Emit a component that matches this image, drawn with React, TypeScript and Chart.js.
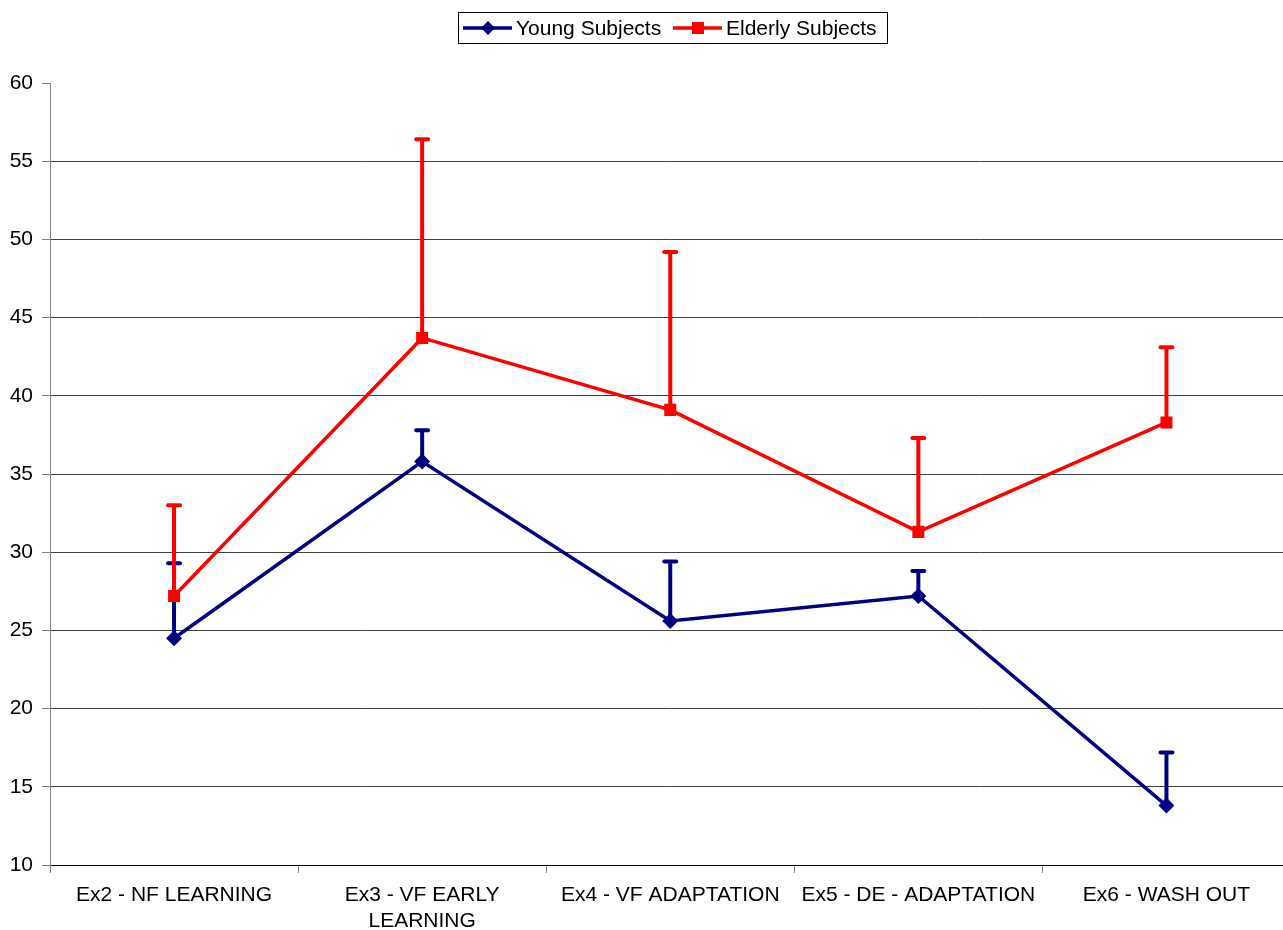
import React, { useEffect, useRef } from "react";
import { Chart, registerables } from "chart.js";

Chart.register(...registerables);

const categories: (string | string[])[] = [
  "Ex2 - NF LEARNING",
  ["Ex3 - VF EARLY", "LEARNING"],
  "Ex4 - VF ADAPTATION",
  "Ex5 - DE - ADAPTATION",
  "Ex6 - WASH OUT",
];
const youngValues = [24.5, 35.8, 25.6, 27.2, 13.8];
const youngUpper = [29.3, 37.8, 29.4, 28.8, 17.2];
const elderlyValues = [27.2, 43.7, 39.1, 31.3, 38.3];
const elderlyUpper = [33.0, 56.4, 49.2, 37.3, 43.1];
const seriesNames = ["Young Subjects", "Elderly Subjects"];
const yTicks = [10, 15, 20, 25, 30, 35, 40, 45, 50, 55, 60];

const NAVY = "#000080";
const RED = "#FF0000";
const FONT = "'Liberation Sans', Arial, sans-serif";

const errorBarPlugin = {
  id: "errorBars",
  beforeDatasetsDraw(chart: any) {
    const ctx = chart.ctx;
    const y = chart.scales.y;
    const sets = [
      { idx: 0, upper: youngUpper, color: NAVY },
      { idx: 1, upper: elderlyUpper, color: RED },
    ];
    ctx.save();
    for (const s of sets) {
      const meta = chart.getDatasetMeta(s.idx);
      const data = chart.data.datasets[s.idx].data as number[];
      ctx.strokeStyle = s.color;
      ctx.lineWidth = 4;
      meta.data.forEach((pt: any, i: number) => {
        const x = pt.x;
        const y0 = y.getPixelForValue(data[i]);
        const y1 = y.getPixelForValue(s.upper[i]);
        ctx.lineCap = "butt";
        ctx.beginPath();
        ctx.moveTo(x, y0);
        ctx.lineTo(x, y1);
        ctx.stroke();
        ctx.lineCap = "round";
        ctx.beginPath();
        ctx.moveTo(x - 6, y1);
        ctx.lineTo(x + 6, y1);
        ctx.stroke();
      });
    }
    ctx.restore();
  },
};

const legendPlugin = {
  id: "boxLegend",
  afterDraw(chart: any) {
    const ctx = chart.ctx;
    ctx.save();
    ctx.strokeStyle = "#000";
    ctx.lineWidth = 1;
    ctx.strokeRect(458.5, 12.5, 429, 31);
    ctx.font = `21px ${FONT}`;
    ctx.textBaseline = "middle";
    ctx.textAlign = "left";
    const cy = 28;
    // young
    ctx.strokeStyle = NAVY;
    ctx.lineWidth = 3.5;
    ctx.beginPath();
    ctx.moveTo(463, cy);
    ctx.lineTo(512, cy);
    ctx.stroke();
    ctx.fillStyle = NAVY;
    ctx.beginPath();
    ctx.moveTo(488, cy - 7);
    ctx.lineTo(495, cy);
    ctx.lineTo(488, cy + 7);
    ctx.lineTo(481, cy);
    ctx.closePath();
    ctx.fill();
    ctx.fillStyle = "#000";
    ctx.fillText(seriesNames[0], 516, cy + 1);
    // elderly
    ctx.strokeStyle = RED;
    ctx.beginPath();
    ctx.moveTo(673, cy);
    ctx.lineTo(722, cy);
    ctx.stroke();
    ctx.fillStyle = RED;
    ctx.fillRect(692, cy - 6, 12, 12);
    ctx.fillStyle = "#000";
    ctx.fillText(seriesNames[1], 726, cy + 1);
    ctx.restore();
  },
};

export default function App() {
  const ref = useRef<HTMLCanvasElement>(null);
  useEffect(() => {
    document.body.style.margin = "0";
    const chart = new Chart(ref.current!, {
      type: "line",
      data: {
        labels: categories,
        datasets: [
          {
            label: seriesNames[0],
            data: youngValues,
            borderColor: NAVY,
            backgroundColor: NAVY,
            borderWidth: 3.5,
            pointStyle: "rectRot",
            pointRadius: 8,
            pointBorderWidth: 0,
            tension: 0,
            order: 1,
          },
          {
            label: seriesNames[1],
            data: elderlyValues,
            borderColor: RED,
            backgroundColor: RED,
            borderWidth: 3.5,
            pointStyle: "rect",
            pointRadius: 8.5,
            pointBorderWidth: 0,
            tension: 0,
            order: 0,
          },
        ],
      },
      options: {
        responsive: false,
        animation: false,
        devicePixelRatio: 1,
        layout: { padding: { top: 83, right: 0, bottom: 0, left: 0 } },
        plugins: {
          legend: { display: false },
          tooltip: { enabled: false },
        },
        scales: {
          x: {
            type: "category",
            offset: true,
            grid: {
              offset: true,
              drawOnChartArea: false,
              drawTicks: true,
              tickLength: 8,
              color: "#808080",
            },
            border: { color: "#000", width: 1 },
            ticks: {
              color: "#000",
              font: { family: FONT, size: 21, lineHeight: 1.2 },
              padding: 10,
              maxRotation: 0,
              autoSkip: false,
            },
            afterFit(scale: any) {
              scale.height = 65;
            },
          },
          y: {
            min: 10,
            max: 60,
            afterBuildTicks(scale: any) {
              scale.ticks = yTicks.map((v) => ({ value: v }));
            },
            grid: {
              color: (c: any) => (c.tick && c.tick.value === 60 ? "rgba(0,0,0,0)" : "#404040"),
              tickColor: "#808080",
              tickLength: 8,
              drawTicks: true,
            },
            border: { color: "#808080", width: 1 },
            ticks: {
              color: "#000",
              font: { family: FONT, size: 21 },
              padding: 9,
            },
            afterFit(scale: any) {
              scale.width = 50;
            },
          },
        },
      },
      plugins: [errorBarPlugin, legendPlugin],
    });
    return () => chart.destroy();
  }, []);
  return (
    <div style={{ position: "fixed", left: 0, top: 0, width: 1283, height: 930, overflow: "hidden", background: "#fff" }}>
      <canvas ref={ref} width={1299} height={930} />
    </div>
  );
}
